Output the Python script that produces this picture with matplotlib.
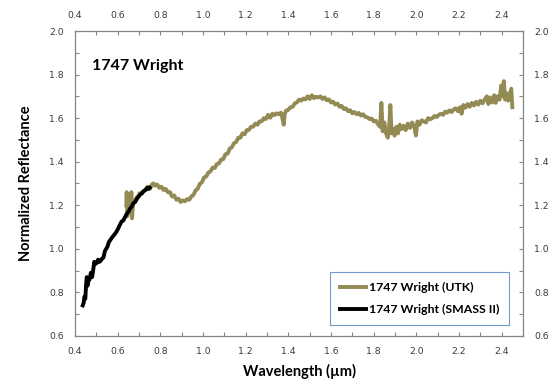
import matplotlib
matplotlib.use('Agg')
import matplotlib.pyplot as plt
from matplotlib.ticker import MultipleLocator

plt.rcParams['font.family'] = ['Lato', 'DejaVu Sans']

# 1747 Wright (UTK) spectrum
utk_wl = [0.640, 0.642, 0.645, 0.650, 0.655, 0.660, 0.664, 0.667, 0.672, 0.680,
          0.688, 0.695, 0.703, 0.712, 0.720, 0.730, 0.740, 0.750, 0.760, 0.768,
          0.775, 0.785, 0.795, 0.805, 0.815, 0.825, 0.835, 0.845, 0.855, 0.865,
          0.875, 0.885, 0.895, 0.905, 0.915, 0.925, 0.935, 0.945, 0.955, 0.965,
          0.975, 0.985, 0.995, 1.005, 1.015, 1.025, 1.035, 1.045, 1.055, 1.065,
          1.075, 1.085, 1.095, 1.105, 1.115, 1.125, 1.135, 1.145, 1.155, 1.165,
          1.175, 1.185, 1.195, 1.205, 1.215, 1.225, 1.235, 1.245, 1.255, 1.265,
          1.275, 1.285, 1.295, 1.305, 1.315, 1.325, 1.335, 1.345, 1.355, 1.365,
          1.372, 1.378, 1.383, 1.390, 1.400, 1.410, 1.420, 1.430, 1.440, 1.450,
          1.460, 1.470, 1.480, 1.490, 1.500, 1.510, 1.520, 1.530, 1.540, 1.550,
          1.560, 1.570, 1.580, 1.590, 1.600, 1.610, 1.620, 1.630, 1.640, 1.650,
          1.660, 1.670, 1.680, 1.690, 1.700, 1.710, 1.720, 1.730, 1.740, 1.750,
          1.760, 1.770, 1.780, 1.790, 1.800, 1.810, 1.820, 1.830, 1.836, 1.842,
          1.850, 1.858, 1.866, 1.872, 1.878, 1.884, 1.890, 1.898, 1.906, 1.914,
          1.922, 1.930, 1.940, 1.950, 1.960, 1.970, 1.980, 1.990, 1.998, 2.005,
          2.015, 2.025, 2.035, 2.045, 2.055, 2.065, 2.075, 2.085, 2.095, 2.105,
          2.115, 2.125, 2.135, 2.145, 2.155, 2.165, 2.175, 2.185, 2.195, 2.205,
          2.212, 2.220, 2.230, 2.240, 2.250, 2.260, 2.270, 2.280, 2.290, 2.300,
          2.310, 2.320, 2.330, 2.338, 2.345, 2.355, 2.365, 2.372, 2.380, 2.390,
          2.398, 2.404, 2.410, 2.416, 2.422, 2.430, 2.438, 2.445, 2.450]
utk_refl = [1.20, 1.26, 1.15, 1.19, 1.18, 1.20, 1.26, 1.14, 1.21, 1.22,
            1.235, 1.24, 1.255, 1.255, 1.265, 1.27, 1.285, 1.275, 1.295, 1.30,
            1.29, 1.295, 1.28, 1.285, 1.27, 1.275, 1.26, 1.26, 1.24, 1.245,
            1.225, 1.23, 1.215, 1.222, 1.218, 1.228, 1.225, 1.24, 1.247, 1.268,
            1.276, 1.298, 1.306, 1.328, 1.332, 1.35, 1.356, 1.373, 1.371, 1.39,
            1.392, 1.41, 1.412, 1.434, 1.437, 1.46, 1.466, 1.485, 1.49, 1.51,
            1.51, 1.53, 1.526, 1.545, 1.546, 1.56, 1.561, 1.575, 1.57, 1.585,
            1.586, 1.60, 1.596, 1.615, 1.602, 1.62, 1.614, 1.622, 1.618, 1.625,
            1.60, 1.57, 1.62, 1.635, 1.638, 1.65, 1.652, 1.668, 1.672, 1.685,
            1.68, 1.69, 1.686, 1.70, 1.688, 1.705, 1.692, 1.698, 1.695, 1.70,
            1.688, 1.695, 1.682, 1.686, 1.672, 1.675, 1.662, 1.667, 1.652, 1.656,
            1.642, 1.645, 1.632, 1.636, 1.622, 1.628, 1.618, 1.624, 1.612, 1.618,
            1.606, 1.604, 1.596, 1.598, 1.585, 1.588, 1.572, 1.56, 1.67, 1.54,
            1.58, 1.53, 1.51, 1.55, 1.66, 1.53, 1.55, 1.52, 1.56, 1.53,
            1.57, 1.55, 1.565, 1.545, 1.575, 1.555, 1.58, 1.56, 1.52, 1.585,
            1.57, 1.59, 1.585, 1.58, 1.60, 1.595, 1.60, 1.61, 1.605, 1.615,
            1.62, 1.615, 1.63, 1.625, 1.635, 1.628, 1.64, 1.645, 1.632, 1.65,
            1.62, 1.66, 1.648, 1.665, 1.652, 1.67, 1.658, 1.675, 1.662, 1.68,
            1.668, 1.685, 1.70, 1.665, 1.695, 1.672, 1.705, 1.67, 1.70, 1.685,
            1.75, 1.70, 1.77, 1.685, 1.715, 1.68, 1.71, 1.735, 1.65]

# 1747 Wright (SMASS II) visible spectrum
smass_wl = [0.436, 0.440, 0.444, 0.448, 0.452, 0.455, 0.458, 0.462, 0.468, 0.474,
            0.480, 0.486, 0.490, 0.495, 0.502, 0.508, 0.514, 0.520, 0.527, 0.533,
            0.540, 0.546, 0.552, 0.558, 0.565, 0.572, 0.580, 0.588, 0.595, 0.603,
            0.610, 0.618, 0.626, 0.634, 0.642, 0.650, 0.658, 0.666, 0.674, 0.682,
            0.690, 0.698, 0.706, 0.714, 0.722, 0.730, 0.738, 0.745, 0.750]
smass_refl = [0.74, 0.75, 0.78, 0.77, 0.84, 0.87, 0.83, 0.85, 0.86, 0.89,
              0.87, 0.91, 0.94, 0.93, 0.935, 0.95, 0.94, 0.945, 0.955, 0.96,
              0.99, 1.00, 1.01, 1.03, 1.04, 1.05, 1.06, 1.07, 1.08, 1.095,
              1.11, 1.125, 1.13, 1.145, 1.16, 1.17, 1.185, 1.195, 1.21, 1.215,
              1.23, 1.24, 1.25, 1.255, 1.265, 1.27, 1.28, 1.275, 1.28]

fig = plt.figure(figsize=(5.52, 3.83), dpi=100)
ax = fig.add_axes([0.136, 0.123, 0.8115, 0.796])

ax.plot(utk_wl, utk_refl, color='#948A54', lw=2.8, label='1747 Wright (UTK)')
ax.plot(smass_wl, smass_refl, color='black', lw=2.8, label='1747 Wright (SMASS II)')

ax.set_xlim(0.4, 2.5)
ax.set_ylim(0.6, 2.0)
ax.xaxis.set_major_locator(MultipleLocator(0.2))
ax.xaxis.set_minor_locator(MultipleLocator(0.1))
ax.yaxis.set_major_locator(MultipleLocator(0.2))
ax.yaxis.set_minor_locator(MultipleLocator(0.1))
ax.xaxis.set_major_formatter(plt.FormatStrFormatter('%.1f'))
ax.yaxis.set_major_formatter(plt.FormatStrFormatter('%.1f'))

# ticks inside on all four sides, labels on all four sides
ax.tick_params(which='both', direction='in', length=3, width=0.8, color='#868686',
               top=True, right=True, labeltop=True, labelright=True,
               labelsize=6.7, labelcolor='#3a3a3a', pad=8,
               labelfontfamily='DejaVu Sans')
for s in ax.spines.values():
    s.set_color('#868686')
    s.set_linewidth(0.9)

ax.set_xlabel('Wavelength (µm)', fontsize=10.5, fontweight='bold', labelpad=6)
ax.set_ylabel('Normalized Reflectance', fontsize=10.5, fontweight='bold', labelpad=12)

ax.text(0.037, 0.885, '1747 Wright', transform=ax.transAxes, fontsize=11.5,
        fontweight='bold', va='center', ha='left')

leg = ax.legend(loc='lower right', bbox_to_anchor=(0.969, 0.037),
                prop={'size': 8.8, 'weight': 'bold'}, frameon=True, fancybox=False,
                handlelength=2.2, handletextpad=0.2, labelspacing=0.9,
                borderpad=0.8, borderaxespad=0)
leg.get_frame().set_edgecolor('#4F81BD')
leg.get_frame().set_linewidth(0.8)

fig.savefig('out.png', dpi=100)
